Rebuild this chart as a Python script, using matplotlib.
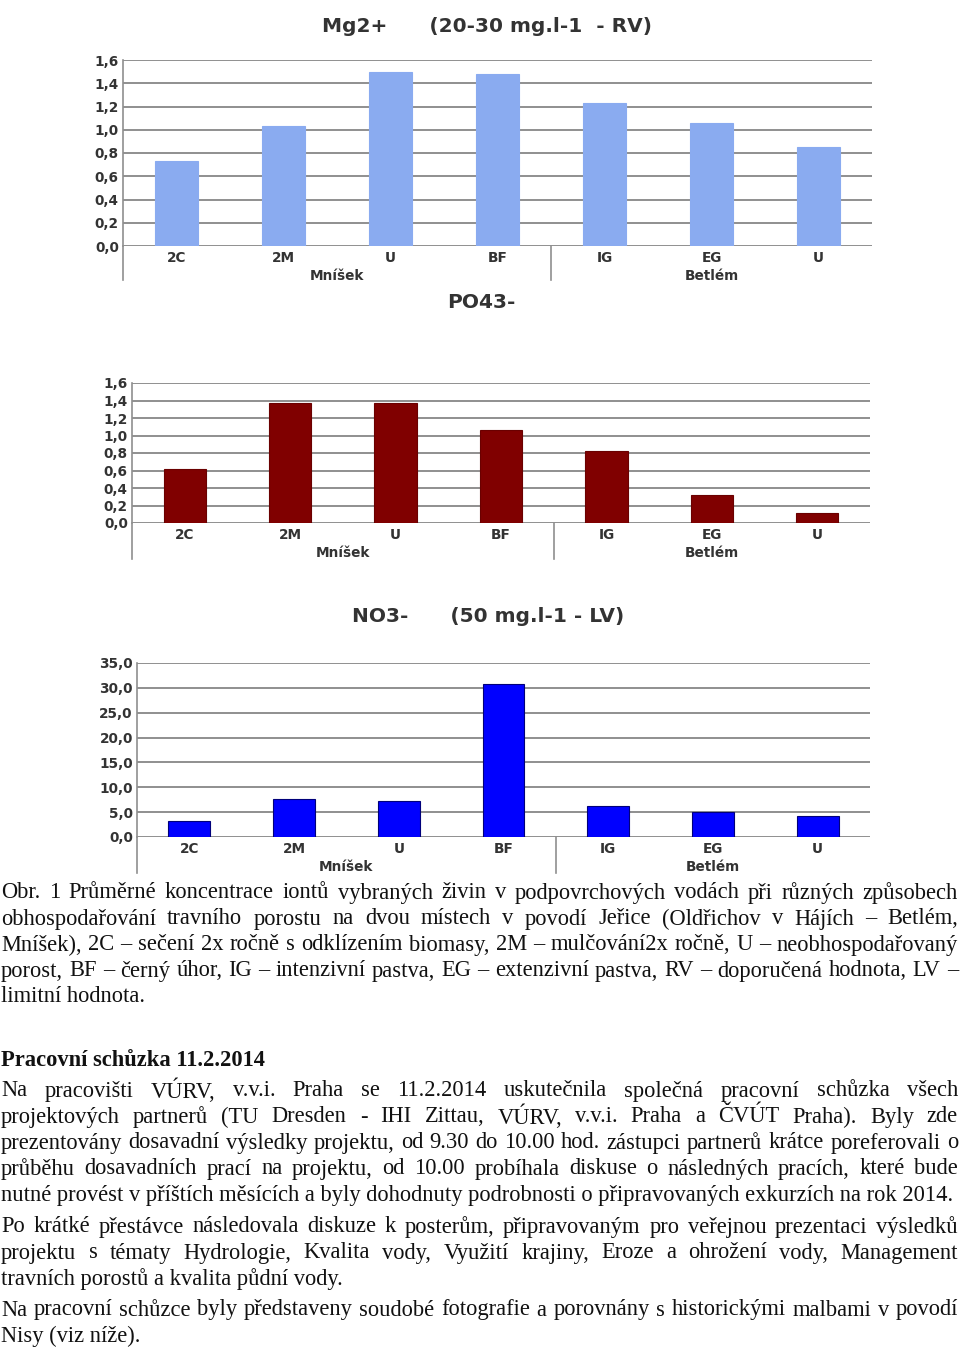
import matplotlib
matplotlib.use("Agg")
import matplotlib.pyplot as plt
from matplotlib.ticker import FixedLocator, FuncFormatter

W, H = 960, 1350
DPI = 100

categories = ["2C", "2M", "U", "BF", "IG", "EG", "U"]
groups = ["Mníšek", "Betlém"]
group_centers = [1.5, 5.0]
group_split = 3.5

mg_values = [0.73, 1.03, 1.50, 1.48, 1.23, 1.06, 0.85]
po4_values = [0.62, 1.37, 1.37, 1.06, 0.82, 0.32, 0.11]
no3_values = [3.3, 7.6, 7.3, 30.8, 6.2, 5.0, 4.2]

mg_ticks = [0.0, 0.2, 0.4, 0.6, 0.8, 1.0, 1.2, 1.4, 1.6]
po4_ticks = [0.0, 0.2, 0.4, 0.6, 0.8, 1.0, 1.2, 1.4, 1.6]
no3_ticks = [0.0, 5.0, 10.0, 15.0, 20.0, 25.0, 30.0, 35.0]

titles = ["Mg2+      (20-30 mg.l-1  - RV)", "PO43-", "NO3-      (50 mg.l-1 - LV)"]

caption = [
    ("Obr. 1 Průměrné koncentrace iontů vybraných živin v podpovrchových vodách při různých způsobech", True),
    ("obhospodařování travního porostu na dvou místech v povodí Jeřice (Oldřichov v Hájích – Betlém,", True),
    ("Mníšek), 2C – sečení 2x ročně s odklízením biomasy, 2M – mulčování2x ročně, U – neobhospodařovaný", True),
    ("porost, BF – černý úhor, IG – intenzivní pastva, EG – extenzivní pastva, RV – doporučená hodnota, LV –", True),
    ("limitní hodnota.", False),
]
heading = "Pracovní schůzka 11.2.2014"
body = [
    [("Na pracovišti VÚRV, v.v.i. Praha se 11.2.2014 uskutečnila společná pracovní schůzka všech", True),
     ("projektových partnerů (TU Dresden - IHI Zittau, VÚRV, v.v.i. Praha a ČVÚT Praha). Byly zde", True),
     ("prezentovány dosavadní výsledky projektu, od 9.30 do 10.00 hod. zástupci partnerů krátce poreferovali o", True),
     ("průběhu dosavadních prací na projektu, od 10.00 probíhala diskuse o následných pracích, které bude", True),
     ("nutné provést v příštích měsících a byly dohodnuty podrobnosti o připravovaných exkurzích na rok 2014.", False)],
    [("Po krátké přestávce následovala diskuze k posterům, připravovaným pro veřejnou prezentaci výsledků", True),
     ("projektu s tématy Hydrologie, Kvalita vody, Využití krajiny, Eroze a ohrožení vody, Management", True),
     ("travních porostů a kvalita půdní vody.", False)],
    [("Na pracovní schůzce byly představeny soudobé fotografie a porovnány s historickými malbami v povodí", True),
     ("Nisy (viz níže).", False)],
]

fig = plt.figure(figsize=(W / DPI, H / DPI), dpi=DPI)
fig.patch.set_facecolor("white")

GRID = "#8f8f8f"
TXT = "#333333"
LFS = 9.8


def make_chart(box, values, ticks, color, edge, title, title_xy, label_off, group_off, line_ext):
    left, right, top, bottom = box
    ax = fig.add_axes([left / W, 1 - bottom / H, (right - left) / W, (bottom - top) / H])
    x = list(range(len(categories)))
    ax.bar(x, values, width=0.4, color=color, edgecolor=edge, linewidth=0.8, zorder=3)
    ax.set_xlim(-0.5, len(categories) - 0.5)
    ax.set_ylim(ticks[0], ticks[-1])
    ax.yaxis.set_major_locator(FixedLocator(ticks))
    ax.yaxis.set_major_formatter(FuncFormatter(lambda v, p: f"{v:.1f}".replace(".", ",")))
    ax.grid(axis="y", color=GRID, linewidth=1.4, zorder=0)
    ax.set_xticks([])
    for s in ["top", "right", "bottom"]:
        ax.spines[s].set_visible(False)
    ax.spines["left"].set_color(GRID)
    ax.spines["left"].set_linewidth(1.2)
    ax.tick_params(axis="y", length=0, pad=3, labelsize=LFS, labelcolor=TXT)
    for lab in ax.get_yticklabels():
        lab.set_fontweight("bold")
    h = bottom - top
    ext = line_ext / h
    ax.plot([-0.5, -0.5], [0, -ext], transform=ax.get_xaxis_transform(), color=GRID,
            lw=1.2, clip_on=False)
    ax.plot([group_split, group_split], [0, -ext], transform=ax.get_xaxis_transform(),
            color=GRID, lw=1.2, clip_on=False)
    for xi, c in zip(x, categories):
        ax.text(xi, -label_off / h, c, transform=ax.get_xaxis_transform(), ha="center",
                va="center", fontsize=LFS, fontweight="bold", color=TXT)
    for gc, g in zip(group_centers, groups):
        ax.text(gc, -group_off / h, g, transform=ax.get_xaxis_transform(), ha="center",
                va="center", fontsize=LFS, fontweight="bold", color=TXT)
    fig.text(title_xy[0] / W, 1 - title_xy[1] / H, title, ha="center", va="center",
             fontsize=14.5, fontweight="bold", color="#333333")
    return ax


make_chart((123, 872, 60, 246), mg_values, mg_ticks, "#8aabf0", "#8aabf0",
           titles[0], (487, 27), 12, 30, 34)
make_chart((132, 870, 383, 523), po4_values, po4_ticks, "#800000", "#6a0000",
           titles[1], (481, 303), 12, 30, 36)
make_chart((137, 870, 663, 837), no3_values, no3_ticks, "#0000ff", "#00007a",
           titles[2], (488, 617), 12, 30, 36)

# ---- text block ----
renderer = fig.canvas.get_renderer()
SERIF = "Liberation Serif"
X0, X1 = 1, 958

probe = fig.text(0, 0, body[0][4][0], fontsize=16, family=SERIF)
pw = probe.get_window_extent(renderer).width
probe.remove()
FS = 16 * 951 / pw


def draw_line(text, ypx, justify, weight="normal"):
    if not justify:
        fig.text(X0 / W, 1 - ypx / H, text, ha="left", va="center", fontsize=FS,
                 family=SERIF, fontweight=weight, color="#111111")
        return
    words = text.split(" ")
    ts = [fig.text(0, 1 - ypx / H, w, ha="left", va="center", fontsize=FS, family=SERIF,
                   fontweight=weight, color="#111111") for w in words]
    widths = [t.get_window_extent(renderer).width for t in ts]
    gap = (X1 - X0 - sum(widths)) / (len(words) - 1)
    xx = X0
    for t, w in zip(ts, widths):
        t.set_x(xx / W)
        xx += w + gap


y = 893
for line, j in caption:
    draw_line(line, y, j)
    y += 26

draw_line(heading, 1060, False, weight="bold")

starts = [1091, 1227, 1310]
for para, ys in zip(body, starts):
    y = ys
    for line, j in para:
        draw_line(line, y, j)
        y += 26

fig.savefig("out.png", dpi=DPI, facecolor="white")
